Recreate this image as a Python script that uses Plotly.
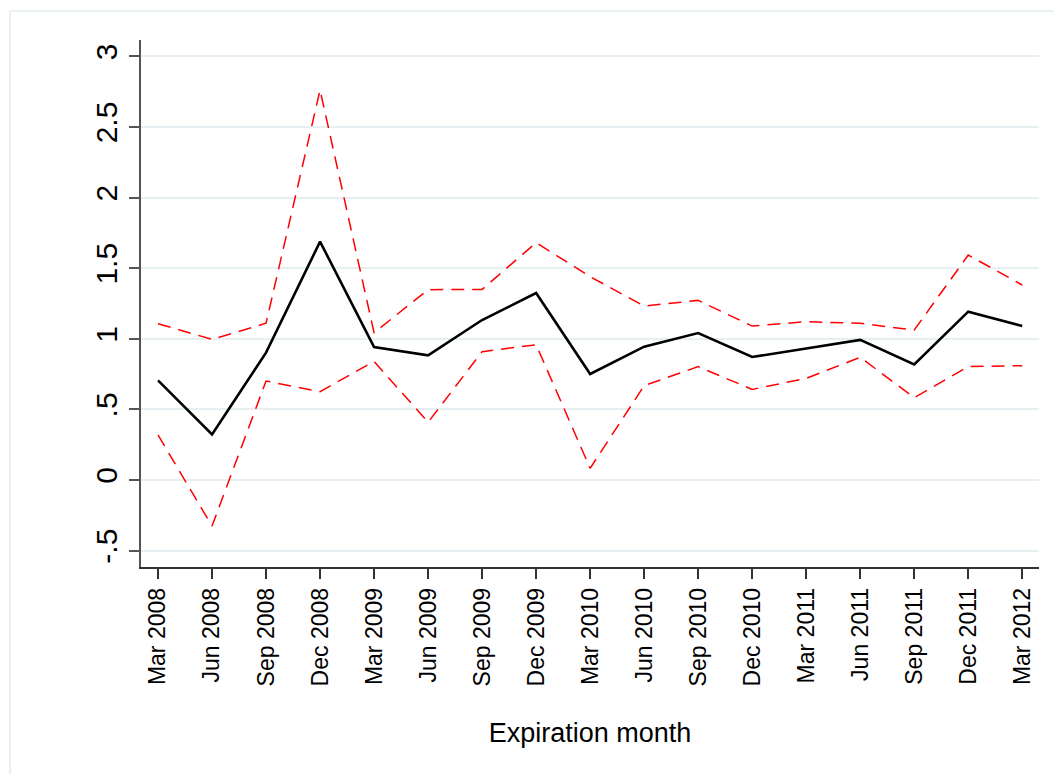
import plotly.graph_objects as go

# Quarterly contract expirations
months = ["Mar 2008", "Jun 2008", "Sep 2008", "Dec 2008", "Mar 2009", "Jun 2009",
          "Sep 2009", "Dec 2009", "Mar 2010", "Jun 2010", "Sep 2010", "Dec 2010",
          "Mar 2011", "Jun 2011", "Sep 2011", "Dec 2011", "Mar 2012"]

# Point estimate and 95% confidence bounds
estimate = [0.706, 0.323, 0.902, 1.688, 0.942, 0.883, 1.133, 1.324, 0.751,
            0.944, 1.041, 0.871, 0.931, 0.992, 0.819, 1.192, 1.091]
upper = [1.107, 0.996, 1.110, 2.762, 1.043, 1.348, 1.350, 1.681, 1.440,
         1.232, 1.272, 1.090, 1.121, 1.110, 1.062, 1.593, 1.381]
lower = [0.319, -0.326, 0.701, 0.626, 0.840, 0.409, 0.909, 0.958, 0.083,
         0.668, 0.803, 0.642, 0.720, 0.869, 0.583, 0.803, 0.810]

y_ticks = [-0.5, 0, 0.5, 1, 1.5, 2, 2.5, 3]
y_tick_text = ["-.5", "0", ".5", "1", "1.5", "2", "2.5", "3"]

idx = list(range(len(months)))
dash = "13px,8px"

fig = go.Figure()
fig.add_trace(go.Scatter(x=idx, y=upper, mode="lines",
                         line=dict(color="#ff0000", width=1.5, dash=dash),
                         hoverinfo="skip"))
fig.add_trace(go.Scatter(x=idx, y=lower, mode="lines",
                         line=dict(color="#ff0000", width=1.5, dash=dash),
                         hoverinfo="skip"))
fig.add_trace(go.Scatter(x=idx, y=estimate, mode="lines",
                         line=dict(color="#000000", width=2.6),
                         hoverinfo="skip"))

# light frame around the graph region
fig.add_shape(type="rect", xref="paper", yref="paper",
              x0=-131 / 898, x1=1.03, y0=1 + 29 / 527, y1=-0.5,
              line=dict(color="#e4edf0", width=1.5), fillcolor="rgba(0,0,0,0)",
              layer="below")

fig.update_layout(
    width=1054, height=774,
    margin=dict(l=141, r=15, t=40, b=207),
    paper_bgcolor="white", plot_bgcolor="white",
    showlegend=False,
    font=dict(family="Liberation Sans, Arial, sans-serif", color="#000000"),
    xaxis=dict(
        range=[-0.315, 16.31],
        tickmode="array", tickvals=idx, ticktext=months,
        tickangle=-90, tickfont=dict(size=23),
        ticks="outside", ticklen=10, tickwidth=1.5, tickcolor="#333333",
        showline=True, linecolor="#333333", linewidth=1.5,
        showgrid=False, zeroline=False,
        title=dict(text="Expiration month", font=dict(size=27), standoff=38),
    ),
    yaxis=dict(
        range=[-0.616, 3.116],
        tickmode="array", tickvals=y_ticks, ticktext=y_tick_text,
        tickangle=-90, tickfont=dict(size=30),
        ticks="outside", ticklen=10, tickwidth=1.5, tickcolor="#555555",
        showline=True, linecolor="#555555", linewidth=1.8,
        showgrid=True, gridcolor="#e6f0f2", gridwidth=2,
        zeroline=False,
    ),
)

fig.write_html("out.html")
